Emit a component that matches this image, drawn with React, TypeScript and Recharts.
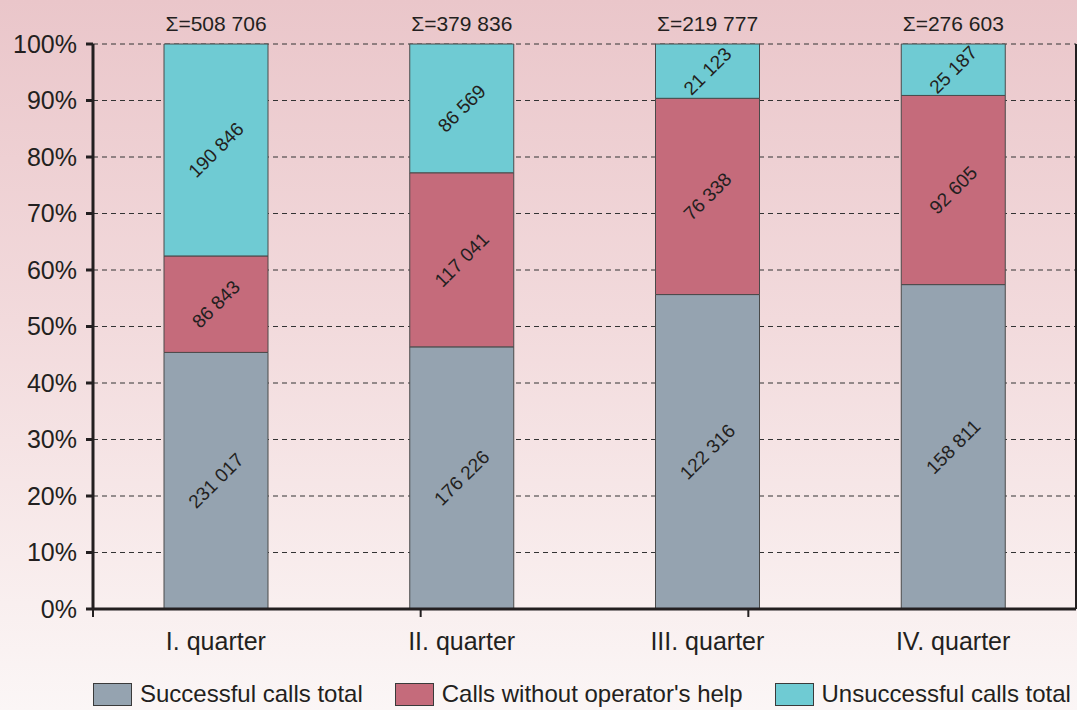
import React from 'react';
import { BarChart, Bar, XAxis, YAxis, CartesianGrid, LabelList, Legend } from 'recharts';

const categories = ['I. quarter', 'II. quarter', 'III. quarter', 'IV. quarter'];
const successful = [231017, 176226, 122316, 158811];
const withoutOperator = [86843, 117041, 76338, 92605];
const unsuccessful = [190846, 86569, 21123, 25187];
const yTicks = [0, 0.1, 0.2, 0.3, 0.4, 0.5, 0.6, 0.7, 0.8, 0.9, 1];
const boundaryTicks = [0, 1, 2, 3, 4];
const seriesNames = ['Successful calls total', "Calls without operator's help", 'Unsuccessful calls total'];
const seriesColors = ['#95a3b0', '#c56b7b', '#6fcbd3'];

const data = categories.map((name, i) => ({
  name,
  successful: successful[i],
  without: withoutOperator[i],
  unsuccessful: unsuccessful[i],
  total: successful[i] + withoutOperator[i] + unsuccessful[i],
}));

const FONT = '"Liberation Sans", Arial, Helvetica, sans-serif';
const TEXT = '#231f20';

const fmt = (n: number) => String(n).replace(/\B(?=(\d{3})+(?!\d))/g, ' ');

const RotLabel = (props: any) => {
  const { x, y, width, height, value } = props;
  const cx = Number(x) + Number(width) / 2;
  const cy = Number(y) + Number(height) / 2;
  return (
    <text
      x={cx}
      y={cy}
      transform={`rotate(-45 ${cx} ${cy})`}
      textAnchor="middle"
      dominantBaseline="central"
      fontSize={19}
      fontFamily={FONT}
      fill={TEXT}
    >
      {fmt(Number(value))}
    </text>
  );
};

const SumLabel = (props: any) => {
  const { x, y, width, value } = props;
  const cx = Number(x) + Number(width) / 2;
  return (
    <text x={cx} y={Number(y) - 13} textAnchor="middle" fontSize={21} fontFamily={FONT} fill={TEXT}>
      {'Σ=' + fmt(Number(value))}
    </text>
  );
};

const LegendContent = () => (
  <div
    style={{
      display: 'flex',
      alignItems: 'center',
      height: 30,
      paddingLeft: 93,
      fontSize: 24,
      fontFamily: FONT,
      color: TEXT,
      whiteSpace: 'nowrap',
    }}
  >
    {seriesNames.map((n, i) => (
      <div key={n} style={{ display: 'flex', alignItems: 'center', marginLeft: i ? 32 : 0 }}>
        <span
          style={{
            display: 'inline-block',
            width: 39,
            height: 23,
            background: seriesColors[i],
            border: '1px solid #3a3a3a',
            boxSizing: 'border-box',
            marginRight: 8,
          }}
        />
        <span>{n}</span>
      </div>
    ))}
  </div>
);

export default function App() {
  return (
    <div
      style={{
        position: 'absolute',
        left: 0,
        top: 0,
        width: 1077,
        height: 710,
        background: 'linear-gradient(to bottom, #eac6ca 0%, #f2dadc 45%, #f9efef 85%, #fbf6f6 100%)',
        fontFamily: FONT,
      }}
    >
      <BarChart
        width={1077}
        height={710}
        data={data}
        stackOffset="expand"
        margin={{ top: 44, right: 0, bottom: 1, left: 0 }}
        barSize={104}
      >
        <CartesianGrid xAxisId="cat" horizontal vertical={false} stroke="#333" strokeDasharray="5 4" strokeWidth={1} />
        <XAxis
          xAxisId="bnd"
          type="number"
          domain={[0, 4]}
          ticks={boundaryTicks}
          height={1}
          tick={() => <g />}
          tickSize={8}
          tickLine={{ stroke: TEXT, strokeWidth: 2 }}
          axisLine={{ stroke: TEXT, strokeWidth: 3 }}
          allowDataOverflow
        />
        <XAxis
          xAxisId="cat"
          dataKey="name"
          height={69}
          axisLine={false}
          tickLine={false}
          tickSize={7}
          tickMargin={15}
          tick={{ fontSize: 25, fill: TEXT, fontFamily: FONT }}
        />
        <YAxis
          domain={[0, 1]}
          ticks={yTicks}
          width={93}
          tickFormatter={(v: number) => Math.round(v * 100) + '%'}
          tick={{ fontSize: 25, fill: TEXT, fontFamily: FONT }}
          tickSize={7}
          tickMargin={9}
          tickLine={{ stroke: TEXT, strokeWidth: 3 }}
          axisLine={{ stroke: TEXT, strokeWidth: 3 }}
          interval={0}
        />
        <YAxis
          yAxisId="r"
          orientation="right"
          width={1}
          domain={[0, 1]}
          tick={false}
          tickLine={false}
          axisLine={{ stroke: TEXT, strokeWidth: 2 }}
        />
        <Legend verticalAlign="bottom" height={30} content={<LegendContent />} wrapperStyle={{ left: 0, width: 1077, bottom: 1 }} />
        <Bar xAxisId="cat" dataKey="successful" stackId="a" fill={seriesColors[0]} stroke="#4a4a4a" strokeWidth={1} isAnimationActive={false}>
          <LabelList dataKey="successful" content={<RotLabel />} />
        </Bar>
        <Bar xAxisId="cat" dataKey="without" stackId="a" fill={seriesColors[1]} stroke="#4a4a4a" strokeWidth={1} isAnimationActive={false}>
          <LabelList dataKey="without" content={<RotLabel />} />
        </Bar>
        <Bar xAxisId="cat" dataKey="unsuccessful" stackId="a" fill={seriesColors[2]} stroke="#4a4a4a" strokeWidth={1} isAnimationActive={false}>
          <LabelList dataKey="unsuccessful" content={<RotLabel />} />
          <LabelList dataKey="total" content={<SumLabel />} />
        </Bar>
      </BarChart>
    </div>
  );
}
